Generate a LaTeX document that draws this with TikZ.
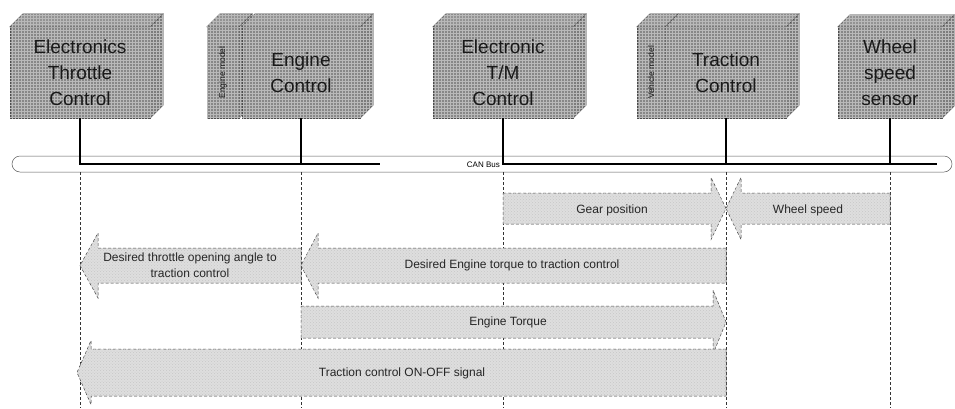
\documentclass[tikz,border=0pt]{standalone}
\usepackage{fontspec}
\setmainfont{Liberation Sans}
\usetikzlibrary{calc,patterns}
\definecolor{boxgray}{RGB}{135,135,135}
\definecolor{gridgray}{RGB}{185,185,185}
\definecolor{arrowgray}{RGB}{222,222,222}
\tikzset{
  boxtex/.style={postaction={pattern=grid, pattern color=gridgray}},
  arrtex/.style={postaction={pattern=crosshatch dots, pattern color=black!22}}}
\newcommand\depthfaces[2]{%
  \draw[draw=black!70, fill=boxgray!90!white, boxtex] (#1.north west) -- ++(#2,-#2) -- ($(#1.north east)+(#2,-#2)$) -- (#1.north east) -- cycle;
  \draw[draw=black!70, fill=boxgray!92!black, boxtex] (#1.north east) -- ++(#2,-#2) -- ($(#1.south east)+(#2,-#2)$) -- (#1.south east) -- cycle;}
\newcommand\blockarrow[6]{% from x, tip x, centre y, body half, head half, signed head length
  \draw[barrow] ({#1},{#3-#4}) -- ({#2-(#6)},{#3-#4}) -- ({#2-(#6)},{#3-#5}) -- ({#2},{#3})
    -- ({#2-(#6)},{#3+#5}) -- ({#2-(#6)},{#3+#4}) -- ({#1},{#3+#4}) -- cycle;}
\begin{document}
\begin{tikzpicture}[x=1pt,y=-1pt,
  modbox/.style={draw=black!70, fill=boxgray, boxtex, minimum height=91pt, inner sep=0pt,
    align=center, font=\fontsize{19}{26}\selectfont, text=black!90},
  sidebox/.style={modbox, font=\fontsize{8.5}{9}\selectfont},
  life/.style={densely dashed, black!80, line width=0.5pt},
  busline/.style={line width=1.6pt, black},
  busbox/.style={draw=black!65, line width=0.5pt, rounded corners=8pt, minimum width=940pt, minimum height=16pt, inner sep=0pt},
  barrow/.style={draw=black!75, densely dashed, line width=0.5pt, fill=arrowgray, arrtex},
  lbl/.style={font=\fontsize{12}{16}\selectfont, text=black!85, align=center, inner sep=0pt}]
\useasboundingbox (0,0) rectangle (955,408);
\fill[white] (0,0) rectangle (955,408);

% bus
\node[busbox] (can) at (482,164) {};
\node[font=\fontsize{8}{9}\selectfont, anchor=east, inner sep=0pt] (canlbl) at (500,165) {CAN Bus};
\coordinate (busL) at (380,164);
\coordinate (busR) at (937,164);
\coordinate (bot) at (0,408);

% modules
\node[modbox, minimum width=140pt] (etc) at (80,72.5) {Electronics\\Throttle\\Control};
\depthfaces{etc}{13}
\node[sidebox, minimum width=32pt] (em) at (223,72.5) {\rotatebox{90}{Engine model}};
\depthfaces{em}{13}
\node[modbox, minimum width=118pt] (eng) at (301,72.5) {Engine\\Control};
\depthfaces{eng}{13}
\node[modbox, minimum width=140pt] (tm) at (503,72.5) {Electronic\\T/M\\Control};
\depthfaces{tm}{13}
\node[sidebox, minimum width=28pt] (vm) at (651,72.5) {\rotatebox{90}{Vehicle model}};
\depthfaces{vm}{13}
\node[modbox, minimum width=120pt] (tc) at (726,72.5) {Traction\\Control};
\depthfaces{tc}{13}
\node[modbox, minimum width=104pt] (ws) at (890,72.5) {Wheel\\speed\\sensor};
\depthfaces{ws}{12}

% bus connections
\draw[busline] (etc.south) |- (busL);
\draw[busline] (eng.south) -- (eng.south |- busL);
\draw[busline] (tm.south) |- (busR);
\draw[busline] (tc.south) -- (tc.south |- busR);
\draw[busline] (ws.south) -- (ws.south |- busR);

% lifelines
\foreach \n in {etc,eng,tm,tc,ws}
  \draw[life] (\n.south |- can.south) -- (\n.south |- bot);

% messages
\blockarrow{503}{726}{208.5}{15.5}{31}{15}
\node[lbl] (m1) at (612,210) {Gear position};
\blockarrow{890}{726}{208.5}{15.5}{31}{-15}
\node[lbl] (m2) at (808,210) {Wheel speed};
\blockarrow{301}{80}{265.5}{17.5}{32.5}{-18}
\node[lbl] (m3) at (190,265) {Desired throttle opening angle to\\traction control};
\blockarrow{726}{301}{265.5}{17.5}{32.5}{-17}
\node[lbl] (m4) at (512,265) {Desired Engine torque to traction control};
\blockarrow{301}{726}{322}{16}{32}{13}
\node[lbl] (m5) at (508,322) {Engine Torque};
\blockarrow{726}{77}{372.5}{23.5}{32}{-14}
\node[lbl] (m6) at (402,373) {Traction control ON-OFF signal};
\end{tikzpicture}
\end{document}
